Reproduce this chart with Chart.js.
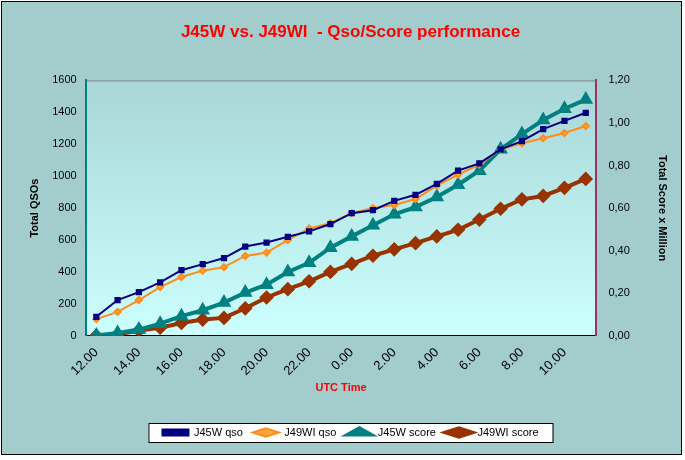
<!DOCTYPE html>
<html><head><meta charset="utf-8">
<script src="https://cdn.jsdelivr.net/npm/chart.js@4/dist/chart.umd.min.js"></script>
<style>html,body{margin:0;padding:0;background:#fff}
#wrap{position:absolute;left:1px;top:1px;width:681px;height:454px;border:1px solid #000;background:#a3cccc;box-sizing:border-box}
</style></head><body>
<div id="wrap"><canvas id="c" width="681" height="454"></canvas></div>
<script>
const categories = ["12.00","13.00","14.00","15.00","16.00","17.00","18.00","19.00","20.00","21.00","22.00","23.00","0.00","1.00","2.00","3.00","4.00","5.00","6.00","7.00","8.00","9.00","10.00","11.00"];
const j45wQso = [119,224,273,335,411,449,487,559,584,620,654,700,768,787,845,883,952,1035,1080,1168,1219,1295,1346,1397];
const j49wiQso = [104,150,224,305,368,408,430,500,521,599,673,705,768,800,819,857,940,1010,1073,1168,1206,1238,1270,1314];
const j45wScore = [0.001,0.013,0.029,0.057,0.092,0.12,0.156,0.203,0.24,0.3,0.343,0.414,0.467,0.519,0.571,0.605,0.652,0.71,0.776,0.876,0.948,1.014,1.067,1.11];
const j49wiScore = [0,0.006,0.025,0.038,0.06,0.076,0.084,0.129,0.18,0.219,0.256,0.3,0.338,0.376,0.406,0.435,0.467,0.498,0.546,0.597,0.641,0.657,0.695,0.737];

const bgPlugin = {id:'bg', beforeDraw(chart){
  const {ctx, chartArea:a} = chart;
  const g = ctx.createLinearGradient(0,a.top,0,a.bottom);
  g.addColorStop(0,'#a9d6d6'); g.addColorStop(1,'#ccffff');
  ctx.save(); ctx.fillStyle=g; ctx.fillRect(a.left,a.top,a.right-a.left,a.bottom-a.top);
  ctx.strokeStyle='#808080'; ctx.lineWidth=1; ctx.beginPath(); ctx.moveTo(a.left,a.top+0.5); ctx.lineTo(a.right,a.top+0.5); ctx.stroke();
  const L = chart.legend, h = L.legendHitBoxes;
  if (h && h.length){
    const x0 = h[0].left-14, x1 = h[h.length-1].left+h[h.length-1].width+14;
    const y0 = h[0].top-4, y1 = h[0].top+h[0].height+4;
    ctx.fillStyle='#fff'; ctx.strokeStyle='#000';
    ctx.fillRect(x0,y0,x1-x0,y1-y0); ctx.strokeRect(x0+0.5,y0+0.5,x1-x0,y1-y0);
  }
  ctx.restore();
}};

new Chart(document.getElementById('c'),{
  type:'line',
  data:{labels:categories,datasets:[
    {label:'J45W qso',data:j45wQso,yAxisID:'y',borderColor:'#000080',backgroundColor:'#000080',borderWidth:2,pointStyle:'rect',pointRadius:3},
    {label:'J49WI qso',data:j49wiQso,yAxisID:'y',borderColor:'#ff8c1a',backgroundColor:'#ffa640',borderWidth:2,pointStyle:'rectRot',pointRadius:3},
    {label:'J45W score',data:j45wScore,yAxisID:'y2',borderColor:'#008080',backgroundColor:'#008080',borderWidth:4,pointStyle:'triangle',pointRadius:4.5},
    {label:'J49WI score',data:j49wiScore,yAxisID:'y2',borderColor:'#993300',backgroundColor:'#993300',borderWidth:4,pointStyle:'rectRot',pointRadius:4.5}
  ]},
  options:{responsive:false,animation:false,
    layout:{padding:{left:22,right:6,top:6,bottom:8}},
    plugins:{
      title:{display:true,text:'J45W vs. J49WI  - Qso/Score performance',color:'#ff0000',font:{family:'Arial, Liberation Sans',size:17,weight:'bold'},padding:{top:14,bottom:38}},
      legend:{position:'bottom',labels:{usePointStyle:true,pointStyleWidth:26,boxHeight:6,color:'#000',font:{family:'Arial, Liberation Sans',size:11},padding:10},maxWidth:450},
      tooltip:{enabled:false}
    },
    scales:{
      x:{offset:true,grid:{display:false,drawOnChartArea:false,tickLength:6,tickColor:'#000'},border:{color:'#000',width:1},
        ticks:{color:'#000',font:{family:'Arial, Liberation Sans',size:13},maxRotation:45,minRotation:45,autoSkip:false,
          callback:(v,i)=> i%2===0 ? categories[i] : ''},
        title:{display:true,text:'UTC Time',color:'#ff0000',font:{family:'Arial, Liberation Sans',size:11,weight:'bold'},padding:{top:0,bottom:22}}},
      y:{position:'left',min:0,max:1600,grid:{display:false,tickLength:6,tickColor:'#008080'},border:{color:'#008080',width:2},
        ticks:{stepSize:200,color:'#000',font:{family:'Arial, Liberation Sans',size:11},callback:v=>String(v)},
        title:{display:true,text:'Total QSOs',color:'#000',font:{family:'Arial, Liberation Sans',size:11,weight:'bold'},padding:{bottom:8}}},
      y2:{position:'right',min:0,max:1.2,grid:{display:false,tickLength:6,tickColor:'#993366'},border:{color:'#993366',width:2},
        ticks:{stepSize:0.2,color:'#000',font:{family:'Arial, Liberation Sans',size:11},padding:6,callback:v=>v.toFixed(2).replace('.',',')},
        title:{display:true,text:'Total Score x Million',color:'#000',font:{family:'Arial, Liberation Sans',size:11,weight:'bold'},padding:{top:8,bottom:20}}}
    }
  },
  plugins:[bgPlugin]
});
</script></body></html>
